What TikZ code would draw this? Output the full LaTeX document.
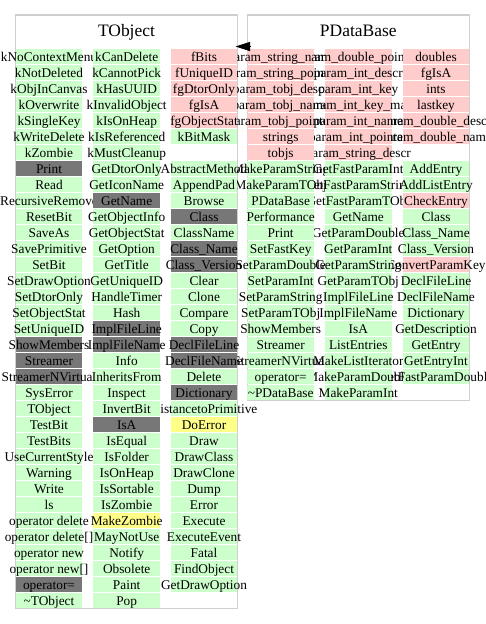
\documentclass[tikz,border=0pt]{standalone}
\usepackage{fontspec}
\setmainfont{Liberation Serif}
\usetikzlibrary{arrows.meta}

\definecolor{cg}{HTML}{CCFFCC}
\definecolor{cp}{HTML}{FFCCCC}
\definecolor{cd}{HTML}{777777}
\definecolor{cy}{HTML}{FFFF88}
\definecolor{frameline}{HTML}{CFCFCF}

\tikzset{
  cell/.style={minimum width=49.95pt, minimum height=11.25pt, inner sep=0pt, outer sep=0pt,
    text height=6.6pt, text depth=0pt, font=\fontsize{10pt}{12pt}\selectfont},
  classframe/.style={draw=frameline, line width=1.1pt, inner sep=0pt, outer sep=0pt},
  classtitle/.style={anchor=base, inner sep=0pt, font=\fontsize{13.1pt}{15pt}\selectfont},
  inherit/.style={line width=0.75pt, -{Triangle[length=10.9pt, width=6.8pt]}},
}

% one column of member cells: #1 name prefix, #2 centre x, #3 first row,
% #4/#5 left/right limit of the label, #6 list of colour/label
\newcommand\membercolumn[6]{%
  \foreach \cl/\tx [count=\rw from #3] in {#6} {
    \pgfmathsetmacro\ry{56.8+16*(\rw-1)}
    \begin{scope}
      \clip (#4,\ry-8) rectangle (#5,\ry+8);
      \node[cell, fill=\cl] (#1-\rw) at (#2,\ry) {\makebox[0pt]{\tx}};
    \end{scope}
  }%
}

\begin{document}
\begin{tikzpicture}[x=0.75pt, y=-0.75pt]
\useasboundingbox (0,0) rectangle (485,624);

% class frames and titles
\node[classframe, minimum width=166.2pt, minimum height=445.1pt] (tobj) at (126.5,311.75) {};
\node[classtitle] (tobj-title) at (126.5,36.3) {TObject};
\node[classframe, minimum width=166.5pt, minimum height=289.1pt] (pdb) at (358.3,207.75) {};
\node[classtitle] (pdb-title) at (358.3,36.3) {PDataBase};

% TObject
\membercolumn{to1}{49}{1}{-50}{93.3}{cg/kNoContextMenu, cg/kNotDeleted, cg/kObjInCanvas,
  cg/kOverwrite, cg/kSingleKey, cg/kWriteDelete, cg/kZombie, cd/Print, cg/Read,
  cg/RecursiveRemove, cg/ResetBit, cg/SaveAs, cg/SavePrimitive, cg/SetBit, cg/SetDrawOption,
  cg/SetDtorOnly, cg/SetObjectStat, cg/SetUniqueID, cd/ShowMembers, cd/Streamer,
  cd/StreamerNVirtual, cg/SysError, cg/TObject, cg/TestBit, cg/TestBits, cg/UseCurrentStyle,
  cg/Warning, cg/Write, cg/ls, cg/operator delete, cg/operator delete[], cg/operator new,
  cg/operator new[], cd/operator=, cg/\textasciitilde TObject}

\membercolumn{to2}{126.7}{1}{82.3}{170.7}{cg/kCanDelete, cg/kCannotPick, cg/kHasUUID,
  cg/kInvalidObject, cg/kIsOnHeap, cg/kIsReferenced, cg/kMustCleanup, cg/GetDtorOnly,
  cg/GetIconName, cd/GetName, cg/GetObjectInfo, cg/GetObjectStat, cg/GetOption, cg/GetTitle,
  cg/GetUniqueID, cg/HandleTimer, cg/Hash, cd/ImplFileLine, cd/ImplFileName, cg/Info,
  cg/InheritsFrom, cg/Inspect, cg/InvertBit, cd/IsA, cg/IsEqual, cg/IsFolder, cg/IsOnHeap,
  cg/IsSortable, cg/IsZombie, cy/MakeZombie, cg/MayNotUse, cg/Notify, cg/Obsolete, cg/Paint,
  cg/Pop}

\membercolumn{to3}{204}{1}{160}{247.3}{cp/fBits, cp/fUniqueID, cp/fgDtorOnly, cp/fgIsA,
  cp/fgObjectStat, cg/kBitMask}
\membercolumn{to3}{204}{8}{160}{247.3}{cg/AbstractMethod, cg/AppendPad, cg/Browse, cd/Class,
  cg/ClassName, cd/Class\_Name, cd/Class\_Version, cg/Clear, cg/Clone, cg/Compare, cg/Copy,
  cd/DeclFileLine, cd/DeclFileName, cg/Delete, cd/Dictionary}
\membercolumn{to3}{204}{23}{160}{600}{cg/DistancetoPrimitive, cy/DoError, cg/Draw,
  cg/DrawClass, cg/DrawClone, cg/Dump, cg/Error, cg/Execute, cg/ExecuteEvent, cg/Fatal,
  cg/FindObject, cg/GetDrawOption}

% PDataBase
\membercolumn{pd1}{280.7}{1}{237.3}{325}{cp/param\_string\_name, cp/param\_string\_pointer,
  cp/param\_tobj\_descr, cp/param\_tobj\_name, cp/param\_tobj\_pointer, cp/strings, cp/tobjs,
  cg/MakeParamString, cg/MakeParamTObj, cg/PDataBase, cg/Performance, cg/Print, cg/SetFastKey,
  cg/SetParamDouble, cg/SetParamInt, cg/SetParamString, cg/SetParamTObj, cg/ShowMembers,
  cg/Streamer, cg/StreamerNVirtual, cg/operator=, cg/\textasciitilde PDataBase}

\membercolumn{pd2}{358.3}{1}{314}{402.7}{cp/param\_double\_pointer, cp/param\_int\_descr,
  cp/param\_int\_key, cp/param\_int\_key\_max, cp/param\_int\_name, cp/param\_int\_pointer}
\membercolumn{pd2}{358.3}{7}{314}{600}{cp/param\_string\_descr}
\membercolumn{pd2}{358.3}{8}{314}{402.7}{cg/GetFastParamInt, cg/GetFastParamString,
  cg/GetFastParamTObj, cg/GetName, cg/GetParamDouble, cg/GetParamInt, cg/GetParamString,
  cg/GetParamTObj, cg/ImplFileLine, cg/ImplFileName, cg/IsA, cg/ListEntries,
  cg/MakeListIterator, cg/MakeParamDouble, cg/MakeParamInt}

\membercolumn{pd3}{436}{1}{391.7}{600}{cp/doubles, cp/fgIsA, cp/ints, cp/lastkey,
  cp/param\_double\_descr, cp/param\_double\_name}
\membercolumn{pd3}{436}{8}{391.7}{600}{cg/AddEntry, cg/AddListEntry, cp/CheckEntry, cg/Class,
  cg/Class\_Name, cg/Class\_Version, cp/ConvertParamKey, cg/DeclFileLine, cg/DeclFileName,
  cg/Dictionary, cg/GetDescription, cg/GetEntry, cg/GetEntryInt, cg/GetFastParamDouble}

% inheritance: PDataBase derives from TObject
\coordinate (inh-from) at ([shift={(3.2,31.5)}]pdb.north west);
\coordinate (inh-to) at ([shift={(-1.8,31.5)}]tobj.north east);
\draw[inherit] (inh-from) -- (inh-to);
\end{tikzpicture}
\end{document}
